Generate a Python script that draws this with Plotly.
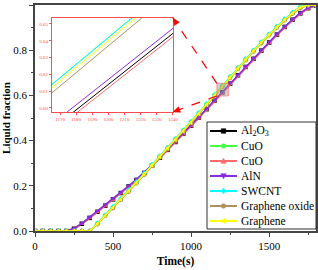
import plotly.graph_objects as go

time_s = [0, 50, 100, 150, 200, 250, 300, 350, 400, 450, 500, 550, 600, 650, 700, 750,
          800, 850, 900, 950, 1000, 1050, 1100, 1150, 1200, 1250, 1300, 1350, 1400, 1450,
          1500, 1550, 1600, 1650, 1700, 1750, 1800]

al2o3 = [0, 0, 0, 0, 0, 0.010, 0.032, 0.058, 0.085, 0.112, 0.140, 0.168, 0.197, 0.226, 0.257,
         0.290, 0.324, 0.359, 0.394, 0.430, 0.466, 0.502, 0.539, 0.576, 0.614, 0.652, 0.689,
         0.726, 0.762, 0.798, 0.834, 0.869, 0.903, 0.935, 0.963, 0.986, 0.998]
cuo_green = [0, 0, 0, 0, 0, 0, 0, 0.000, 0.034, 0.070, 0.106, 0.142, 0.179, 0.216, 0.254,
             0.293, 0.331, 0.369, 0.407, 0.445, 0.483, 0.522, 0.562, 0.602, 0.642, 0.682,
             0.722, 0.761, 0.799, 0.836, 0.871, 0.905, 0.937, 0.966, 0.991, 1.000, 1.000]
cuo_red = [0, 0, 0, 0, 0, 0.009, 0.031, 0.057, 0.083, 0.110, 0.138, 0.166, 0.195, 0.224, 0.255,
           0.288, 0.322, 0.357, 0.392, 0.428, 0.464, 0.500, 0.537, 0.574, 0.612, 0.650, 0.687,
           0.724, 0.760, 0.796, 0.832, 0.867, 0.901, 0.933, 0.961, 0.984, 0.997]
aln = [0, 0, 0, 0, 0, 0.011, 0.034, 0.061, 0.088, 0.115, 0.143, 0.171, 0.200, 0.229, 0.260,
       0.293, 0.327, 0.362, 0.397, 0.433, 0.469, 0.505, 0.542, 0.579, 0.617, 0.655, 0.692,
       0.729, 0.765, 0.801, 0.837, 0.872, 0.905, 0.937, 0.965, 0.988, 0.999]
swcnt = [0, 0, 0, 0, 0, 0, 0, 0.000, 0.034, 0.070, 0.106, 0.142, 0.179, 0.216, 0.254,
         0.293, 0.331, 0.369, 0.407, 0.445, 0.483, 0.522, 0.562, 0.602, 0.642, 0.682,
         0.722, 0.761, 0.799, 0.836, 0.871, 0.905, 0.937, 0.966, 0.991, 1.000, 1.000]
graphene_oxide = [0, 0, 0, 0, 0, 0, 0, 0.000, 0.030, 0.066, 0.101, 0.137, 0.174, 0.211, 0.249,
                  0.288, 0.326, 0.364, 0.402, 0.440, 0.478, 0.517, 0.557, 0.597, 0.637, 0.677,
                  0.717, 0.756, 0.794, 0.831, 0.866, 0.900, 0.932, 0.961, 0.986, 0.999, 1.000]
graphene = [0, 0, 0, 0, 0, 0, 0, 0.000, 0.032, 0.068, 0.104, 0.140, 0.177, 0.214, 0.252,
            0.291, 0.329, 0.367, 0.405, 0.443, 0.481, 0.520, 0.560, 0.600, 0.640, 0.680,
            0.720, 0.759, 0.797, 0.834, 0.869, 0.903, 0.935, 0.964, 0.989, 1.000, 1.000]

names = ["Al<sub>2</sub>O<sub>3</sub>", "CuO", "CuO", "AlN", "SWCNT", "Graphene oxide", "Graphene"]
series = [al2o3, cuo_green, cuo_red, aln, swcnt, graphene_oxide, graphene]
colors = ["#000000", "#44ff44", "#ff6a6a", "#8a2be2", "#00ffff", "#b09060", "#ffff00"]
symbols = ["square", "circle", "triangle-up", "triangle-down", "diamond", "circle", "triangle-left"]

# zoom window (inset ranges)
zoom_x = [1165, 1240]
zoom_y = [0.5976, 0.6535]
x_ticks_inset = [1170, 1180, 1190, 1200, 1210, 1220, 1230, 1240]
y_ticks_inset = [0.60, 0.61, 0.62, 0.63, 0.64, 0.65]

FONT = "Liberation Serif"
RED = "#ff4d4d"
W, H = 318, 270
ML, MR, MT, MB = 35, 2, 5, 39
PW, PH = W - ML - MR, H - MT - MB
XMAX, YMAX = 1800, 1.0

fig = go.Figure()
for n, s, c, m in zip(names, series, colors, symbols):
    fig.add_trace(go.Scatter(x=time_s, y=s, name=n, mode="lines+markers",
                             line=dict(color=c, width=1.5),
                             marker=dict(color=c, symbol=m, size=4.5)))
for n, s, c in zip(names, series, colors):
    fig.add_trace(go.Scatter(x=time_s, y=s, mode="lines", showlegend=False,
                             line=dict(color=c, width=1), xaxis="x2", yaxis="y2",
                             hoverinfo="skip"))

inset_dom_x = [0.0605, 0.491]
inset_dom_y = [0.527, 0.942]

fig.update_layout(
    width=W, height=H,
    margin=dict(l=ML, r=MR, t=MT, b=MB, autoexpand=False),
    paper_bgcolor="white", plot_bgcolor="white",
    font=dict(family=FONT, size=11, color="black"),
    showlegend=False,
    xaxis=dict(range=[0, XMAX], tickvals=[0, 500, 1000, 1500], ticks="outside",
               ticklen=4, tickwidth=1, showline=True, linecolor="#444", linewidth=1.5,
               mirror=True, showgrid=False, zeroline=False, automargin=False,
               minor=dict(tickvals=[250, 750, 1250, 1750], ticks="outside", ticklen=2,
                          tickcolor="#444"),
               title=dict(text="<b>Time(s)</b>", standoff=6,
                          font=dict(family=FONT, size=11.5)),
               tickfont=dict(family=FONT, size=11)),
    yaxis=dict(range=[0, YMAX], tickvals=[0, 0.2, 0.4, 0.6, 0.8, 1.0], tickformat=".1f",
               ticks="outside", ticklen=4, tickwidth=1, showline=True, linecolor="#444",
               linewidth=1.5, mirror=True, showgrid=False, zeroline=False, automargin=False,
               minor=dict(tickvals=[0.1, 0.3, 0.5, 0.7, 0.9], ticks="outside", ticklen=2,
                          tickcolor="#444"),
               title=dict(text="<b>Liquid fraction</b>", standoff=2,
                          font=dict(family=FONT, size=11)),
               tickfont=dict(family=FONT, size=11)),
    xaxis2=dict(domain=inset_dom_x, anchor="y2", range=zoom_x, tickvals=x_ticks_inset,
                ticks="outside", ticklen=2, tickcolor=RED, showline=True, linecolor=RED,
                linewidth=1, mirror=True, showgrid=False, zeroline=False, automargin=False,
                tickfont=dict(family=FONT, size=5, color=RED)),
    yaxis2=dict(domain=inset_dom_y, anchor="x2", range=zoom_y, tickvals=y_ticks_inset,
                tickformat=".2f", ticks="outside", ticklen=2, tickcolor=RED, showline=True,
                linecolor=RED, linewidth=1, mirror=True, showgrid=False, zeroline=False,
                automargin=False, tickfont=dict(family=FONT, size=5, color=RED)),
)


def px_to_paper(px, py):
    return (px - ML) / PW, (H - MB - py) / PH


def data_to_px(t, f):
    return ML + t / XMAX * PW, H - MB - f / YMAX * PH


# highlighted zoom region on main axes
fig.add_shape(type="rect", xref="x", yref="y", x0=zoom_x[0], x1=zoom_x[1],
              y0=zoom_y[0], y1=zoom_y[1], fillcolor="rgba(150,150,150,0.45)",
              line=dict(color="rgba(255,100,100,0.6)", width=1), layer="above")

# dashed connectors from the zoom box to the inset corners, with arrow heads
ix = inset_dom_x[1] * XMAX
for (bx, by, tx, ty) in [(zoom_x[0], zoom_y[1], ix, inset_dom_y[1]),
                         (zoom_x[0], zoom_y[0], ix, inset_dom_y[0])]:
    fig.add_shape(type="line", xref="x", yref="y", x0=bx, y0=by, x1=tx, y1=ty,
                  line=dict(color="red", width=1.2, dash="dash"))
    sx, sy = data_to_px(bx, by)
    ex, ey = data_to_px(tx, ty)
    dx, dy = ex - sx, ey - sy
    ln = (dx * dx + dy * dy) ** 0.5
    ux, uy = dx / ln, dy / ln
    hl, hw = 7, 3
    p1 = (ex, ey)
    p2 = (ex - ux * hl - uy * hw, ey - uy * hl + ux * hw)
    p3 = (ex - ux * hl + uy * hw, ey - uy * hl - ux * hw)
    pts = [px_to_paper(*p) for p in (p1, p2, p3)]
    path = "M {} {} L {} {} L {} {} Z".format(pts[0][0], pts[0][1], pts[1][0], pts[1][1],
                                             pts[2][0], pts[2][1])
    fig.add_shape(type="path", xref="paper", yref="paper", path=path,
                  fillcolor="red", line=dict(color="red", width=0.5))

# legend box (drawn manually to match compact row spacing)
lx0, lx1, ly0, ly1 = 207, 316, 122, 229
a0 = px_to_paper(lx0, ly1)
a1 = px_to_paper(lx1, ly0)
fig.add_shape(type="rect", xref="paper", yref="paper", x0=a0[0], y0=a0[1], x1=a1[0], y1=a1[1],
              fillcolor="white", line=dict(color="#333333", width=1), layer="above")
row_y = [131, 146, 161, 176, 191, 206, 221]
for n, c, m, ry in zip(names, colors, symbols, row_y):
    p0 = px_to_paper(210, ry)
    p1 = px_to_paper(237, ry)
    fig.add_shape(type="line", xref="paper", yref="paper", x0=p0[0], y0=p0[1],
                  x1=p1[0], y1=p1[1], line=dict(color=c, width=2), layer="above")
    cx, cy = 223.5, ry
    r = 2.3
    if m == "square":
        verts = [(cx - r, cy - r), (cx + r, cy - r), (cx + r, cy + r), (cx - r, cy + r)]
    elif m == "triangle-up":
        verts = [(cx, cy - r - 0.5), (cx + r + 0.5, cy + r), (cx - r - 0.5, cy + r)]
    elif m == "triangle-down":
        verts = [(cx, cy + r + 0.5), (cx + r + 0.5, cy - r), (cx - r - 0.5, cy - r)]
    elif m == "diamond":
        verts = [(cx, cy - r - 0.5), (cx + r + 0.5, cy), (cx, cy + r + 0.5), (cx - r - 0.5, cy)]
    elif m == "triangle-left":
        verts = [(cx - r - 0.5, cy), (cx + r, cy - r - 0.5), (cx + r, cy + r + 0.5)]
    else:
        verts = None
    if verts is None:
        q0 = px_to_paper(cx - r, cy + r)
        q1 = px_to_paper(cx + r, cy - r)
        fig.add_shape(type="circle", xref="paper", yref="paper", x0=q0[0], y0=q0[1],
                      x1=q1[0], y1=q1[1], fillcolor=c, line=dict(color=c, width=0.5),
                      layer="above")
    else:
        pp = [px_to_paper(*v) for v in verts]
        path = "M " + " L ".join("{} {}".format(a, b) for a, b in pp) + " Z"
        fig.add_shape(type="path", xref="paper", yref="paper", path=path, fillcolor=c,
                      line=dict(color=c, width=0.5), layer="above")
    tp = px_to_paper(239, ry)
    fig.add_annotation(x=tp[0], y=tp[1], xref="paper", yref="paper", text=n,
                       showarrow=False, xanchor="left", yanchor="middle",
                       font=dict(family=FONT, size=11.5, color="black"))

fig.write_html("out.html", config={"displayModeBar": False},
               post_script="document.body.style.margin='0';"
                           "document.body.style.overflow='hidden';")
